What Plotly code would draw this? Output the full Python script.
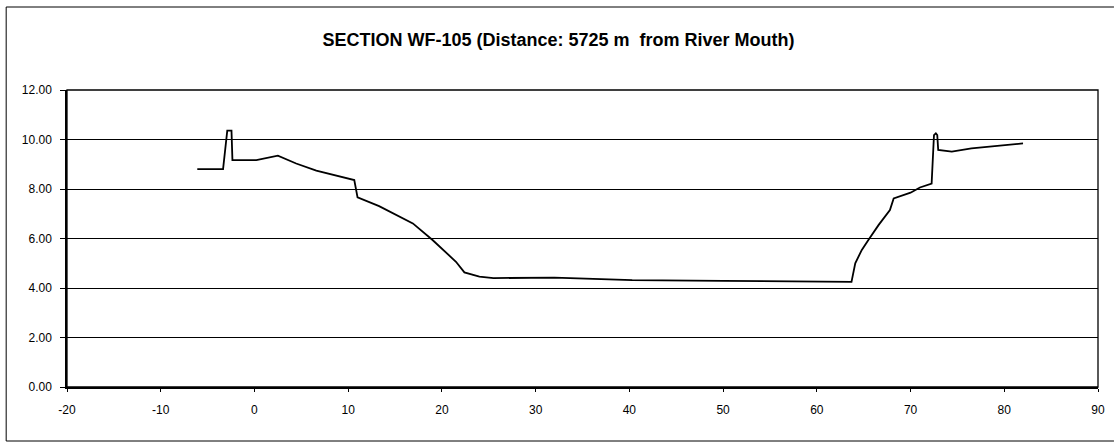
import plotly.graph_objects as go

# Cross-section survey points: offset (m) and bed/bank elevation (m)
offset = [-6.1, -3.35, -2.9, -2.45, -2.35, 0.2, 2.5, 4.45, 6.6, 10.65, 11.0,
          13.3, 16.9, 19.0, 21.5, 22.4, 24.0, 25.5, 32.0, 40.3, 50.0, 57.0,
          63.7, 64.1, 64.8, 65.5, 66.6, 67.8, 68.2, 70.0, 71.0, 72.25, 72.5,
          72.7, 72.85, 72.95, 74.4, 76.5, 79.4, 82.0]
elevation = [8.80, 8.80, 10.36, 10.36, 9.17, 9.17, 9.35, 9.03, 8.74, 8.36, 7.66,
             7.31, 6.61, 5.94, 5.06, 4.63, 4.46, 4.40, 4.42, 4.32, 4.29, 4.26,
             4.25, 5.00, 5.54, 5.94, 6.55, 7.15, 7.62, 7.85, 8.06, 8.22, 10.18,
             10.25, 10.18, 9.58, 9.51, 9.64, 9.75, 9.84]

x_ticks = [-20, -10, 0, 10, 20, 30, 40, 50, 60, 70, 80, 90]
y_ticks = [0, 2, 4, 6, 8, 10, 12]

title_text = "SECTION WF-105 (Distance: 5725 m  from River Mouth)"

W, H = 1117, 444
L, R, T, B = 67, 16, 90, 57
pw, ph = W - L - R, H - T - B

fig = go.Figure()
fig.add_trace(go.Scatter(
    x=offset, y=elevation, mode="lines",
    line=dict(color="black", width=1.8),
    showlegend=False,
))

fig.update_layout(
    width=W, height=H,
    margin=dict(l=L, r=R, t=T, b=B),
    paper_bgcolor="white", plot_bgcolor="white",
    font=dict(family="Arial, Liberation Sans, sans-serif", color="black", size=12),
    title=dict(text="<b>" + title_text + "</b>", x=0.5, xanchor="center",
               y=1 - 40 / H, yanchor="middle",
               font=dict(size=18, family="Arial, Liberation Sans, sans-serif")),
    xaxis=dict(range=[-20, 90], tickvals=x_ticks, ticktext=[str(v) for v in x_ticks],
               showgrid=False, zeroline=False, showline=True, linecolor="black",
               linewidth=1.5, ticks="outside", ticklen=3, tickcolor="black",
               ticklabelstandoff=8, tickfont=dict(size=12)),
    yaxis=dict(range=[0, 12], tickvals=y_ticks, ticktext=[f"{v:.2f}" for v in y_ticks],
               showgrid=True, gridcolor="black", gridwidth=1, zeroline=False,
               showline=True, linecolor="black", linewidth=1.5, ticks="outside",
               ticklen=5, tickcolor="black", ticklabelstandoff=6,
               tickfont=dict(size=12)),
    shapes=[
        # plot frame
        dict(type="rect", xref="paper", yref="paper", x0=0, x1=1, y0=0, y1=1,
             line=dict(color="black", width=1.3)),
        # outer chart border (top, left, bottom)
        dict(type="line", xref="paper", yref="paper",
             x0=-61 / pw, x1=1 + R / pw, y0=1 + 83 / ph, y1=1 + 83 / ph,
             line=dict(color="black", width=1)),
        dict(type="line", xref="paper", yref="paper",
             x0=-61 / pw, x1=-61 / pw, y0=-54 / ph, y1=1 + 83 / ph,
             line=dict(color="black", width=1)),
        dict(type="line", xref="paper", yref="paper",
             x0=-61 / pw, x1=1 + R / pw, y0=-54 / ph, y1=-54 / ph,
             line=dict(color="black", width=1)),
    ],
)

fig.write_html("out.html")
